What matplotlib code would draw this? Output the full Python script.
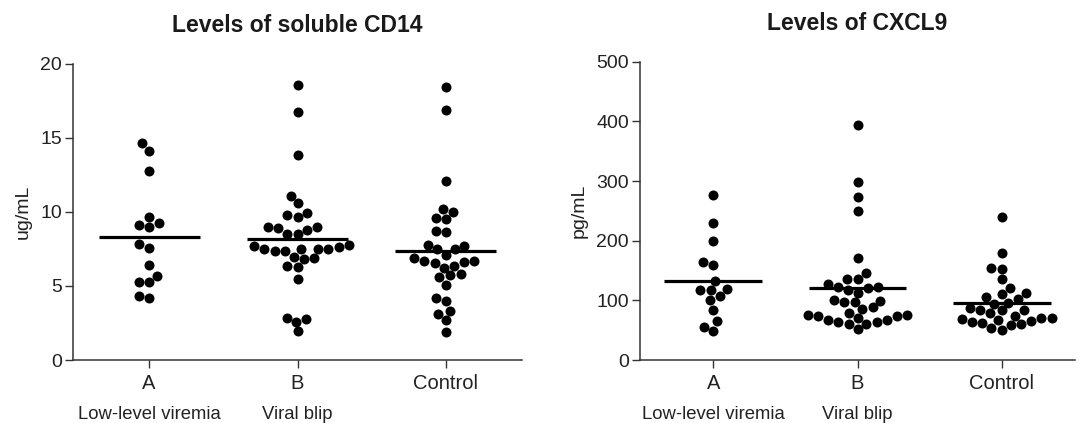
import numpy as np
import pandas as pd
import seaborn as sns
import matplotlib
matplotlib.use("Agg")
import matplotlib.pyplot as plt
from matplotlib.transforms import blended_transform_factory

plt.rcParams['font.family'] = ['Liberation Sans', 'DejaVu Sans']

groups = ["A", "B", "Control"]
group_notes = ["Low-level viremia", "Viral blip"]

# soluble CD14, ug/mL
cd14_a = [14.65, 14.13, 12.75, 9.69, 9.24, 8.98, 9.15, 7.82, 7.58, 6.42, 5.69, 5.24, 5.24, 4.2, 4.31]
cd14_b = [18.6, 16.75, 13.87, 11.09, 10.58, 9.64, 9.93, 9.8, 8.98, 8.53, 8.75, 8.91, 8.53, 8.98,
          7.69, 7.51, 7.51, 7.36, 7.76, 6.98, 6.8, 6.87, 7.36, 7.47, 7.51, 7.64, 6.27, 6.36, 5.49,
          2.76, 2.6, 2.87, 1.93]
cd14_ctrl = [18.47, 16.87, 12.09, 10.2, 10.02, 9.58, 9.53, 8.64, 8.69, 7.8, 7.47, 7.47, 7.71, 6.87,
             6.69, 6.58, 6.24, 6.36, 6.64, 6.71, 7.09, 5.8, 5.58, 5.71, 5.09, 4.02, 4.2, 3.31, 3.09,
             2.69, 1.87]

# CXCL9, pg/mL
cxcl9_a = [276, 229, 199, 160, 165, 132, 118, 117, 119, 108, 100, 84, 65, 56, 49]
cxcl9_b = [394, 299, 274, 250, 171, 136, 145, 136, 128, 120, 123, 118, 122, 113, 98, 88, 99, 100,
           97, 79, 75, 85, 75, 74, 67, 64, 61, 52, 61, 64, 67, 70, 74]
cxcl9_ctrl = [239, 180, 152, 154, 135, 121, 111, 103, 105, 113, 96, 94, 87, 83, 78, 70, 74, 83, 84,
              68, 66, 62, 59, 51, 53, 60, 64, 67, 71]

W, H = 1081, 423
fig = plt.figure(figsize=(W / 100, H / 100), dpi=100)
ax1 = fig.add_axes([73.3 / W, 63 / H, 448.4 / W, 296 / H])
ax2 = fig.add_axes([640 / W, 63 / H, 435 / W, 298.3 / H])

panels = [
    (ax1, [cd14_a, cd14_b, cd14_ctrl], "Levels of soluble CD14", "ug/mL", 20, 5),
    (ax2, [cxcl9_a, cxcl9_b, cxcl9_ctrl], "Levels of CXCL9", "pg/mL", 500, 100),
]

for ax, data, title, ylab, ymax, step in panels:
    df = pd.DataFrame({
        "group": np.concatenate([[g] * len(v) for g, v in zip(groups, data)]),
        "value": np.concatenate(data),
    })
    sns.swarmplot(data=df, x="group", y="value", order=groups, color="black",
                  size=7.2, linewidth=0, ax=ax)
    for i, vals in enumerate(data):
        ax.hlines(np.mean(vals), i - 0.34, i + 0.34, color="black", lw=2.3, zorder=5)

    ax.set_xlim(-0.51, 2.51)
    ax.set_ylim(0, ymax)
    ax.set_yticks(np.arange(0, ymax + 1, step))
    ax.set_xticks(range(3))
    ax.set_xticklabels(groups, fontsize=14.5, color="#222222")
    ax.tick_params(axis="y", labelsize=14, labelcolor="#222222", length=6,
                   width=1, pad=2, color="#333333")
    ax.tick_params(axis="x", length=6, width=1, pad=4, color="#333333")
    ax.set_xlabel("")
    ax.set_ylabel(ylab, fontsize=14, color="#222222", labelpad=6)
    ax.set_title(title, fontsize=16.5, fontweight="bold", color="#1a1a1a", pad=23)
    for side in ["top", "right"]:
        ax.spines[side].set_visible(False)
    for side in ["left", "bottom"]:
        ax.spines[side].set_color("#333333")
        ax.spines[side].set_linewidth(1.1)

    trans = blended_transform_factory(ax.transData, fig.transFigure)
    for i, note in enumerate(group_notes):
        ax.text(i, 4 / H, note, transform=trans, ha="center", va="baseline",
                fontsize=13.3, color="#222222")

fig.savefig("out.png", dpi=100)
